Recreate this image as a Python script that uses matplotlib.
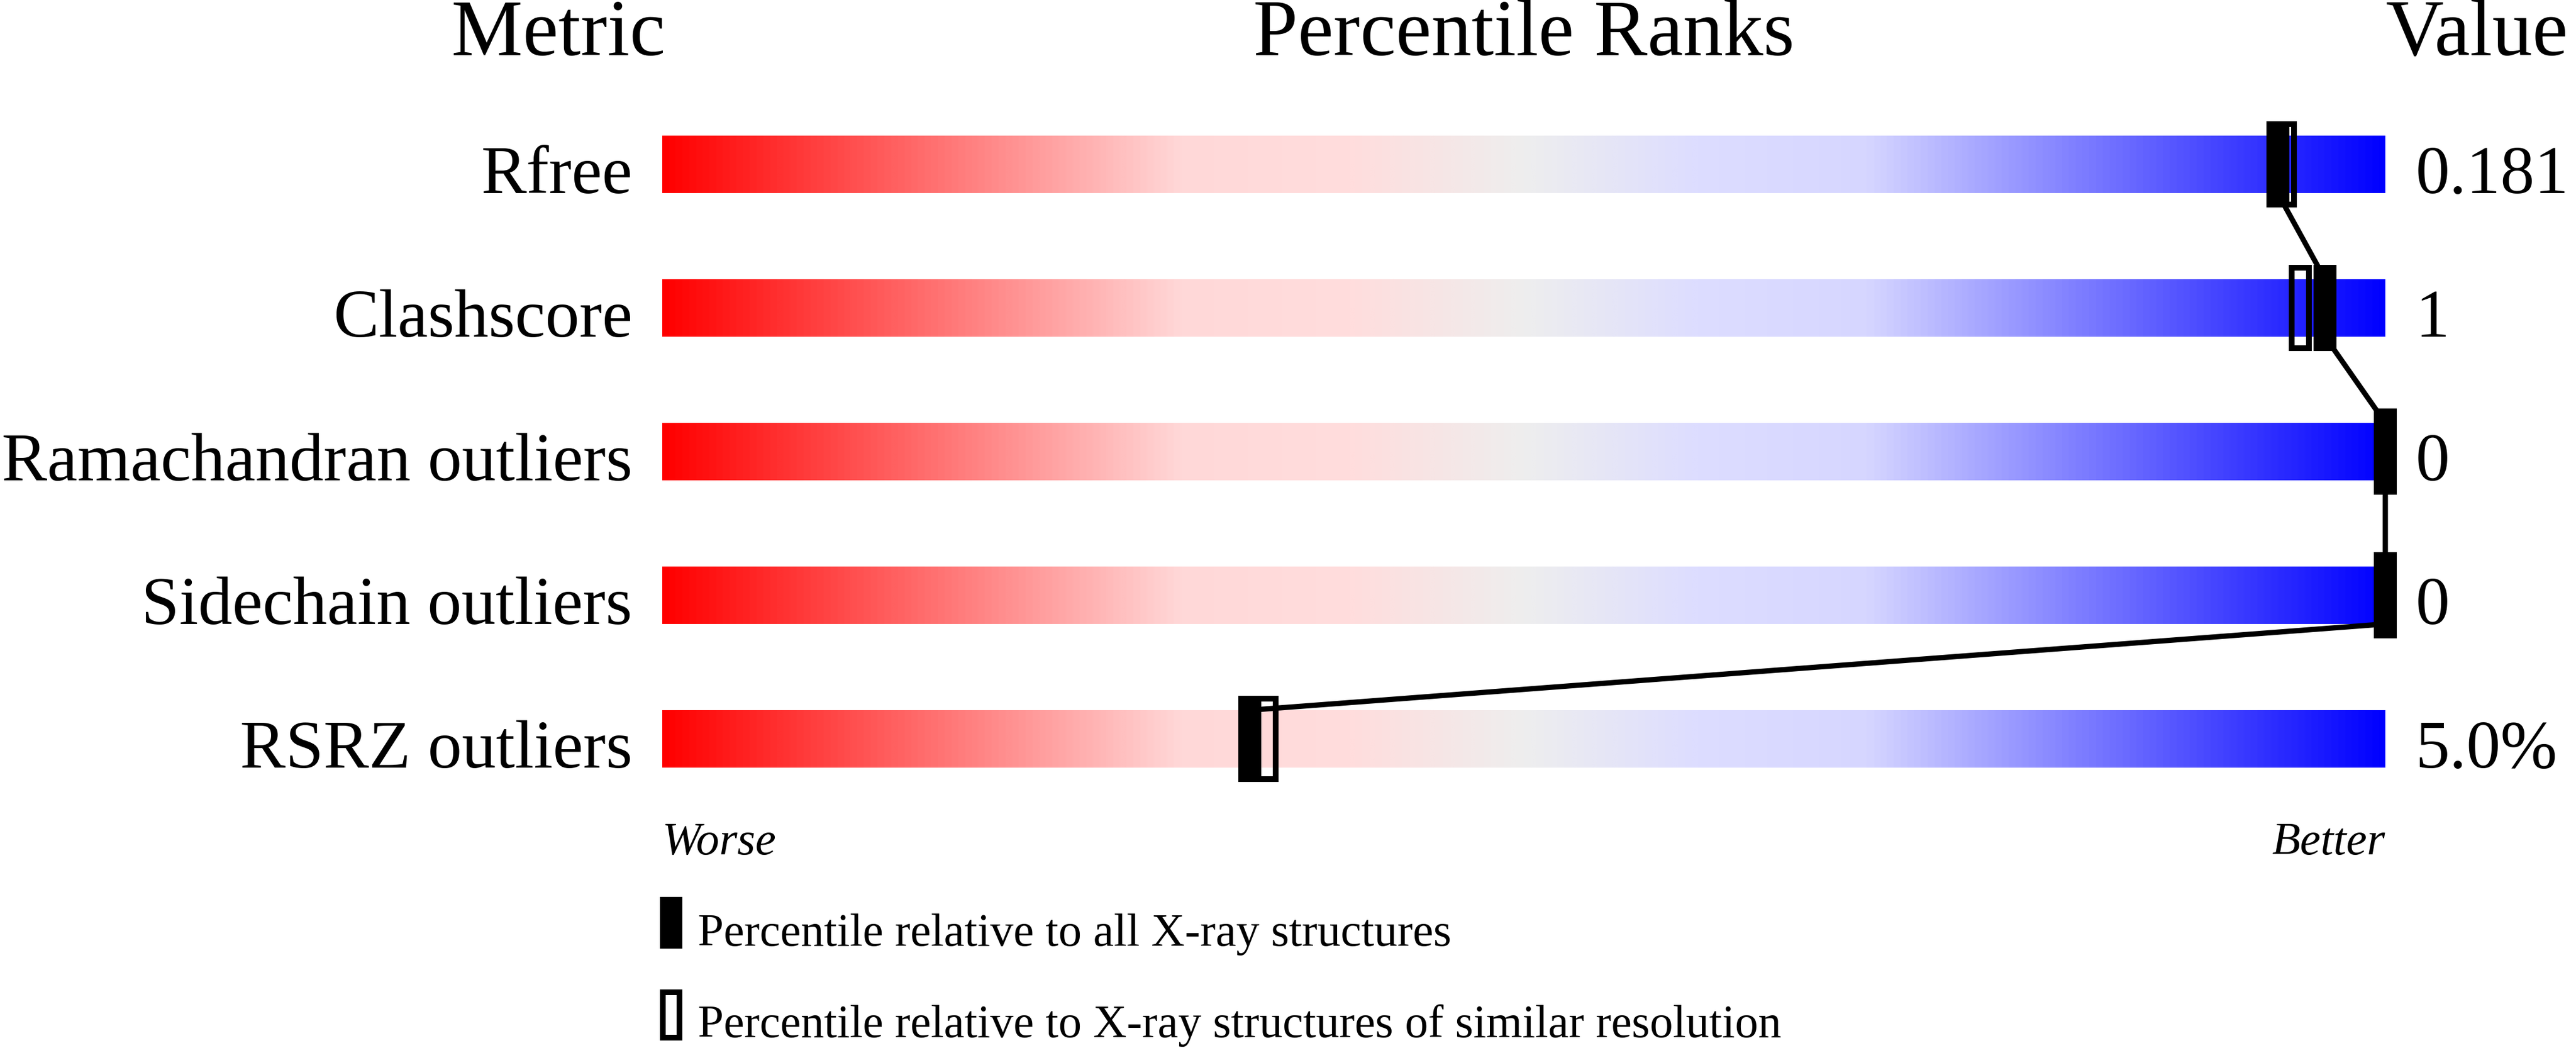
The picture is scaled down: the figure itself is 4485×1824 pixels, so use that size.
import numpy as np
import matplotlib
matplotlib.use("Agg")
import matplotlib.pyplot as plt
import matplotlib.font_manager as fm
from matplotlib.colors import LinearSegmentedColormap
from matplotlib.patches import Rectangle
from matplotlib.transforms import blended_transform_factory

# ---- data ----
metrics = ["Rfree", "Clashscore", "Ramachandran outliers", "Sidechain outliers", "RSRZ outliers"]
values = ["0.181", "1", "0", "0", "5.0%"]
pct_all = [93.75, 96.5, 100, 100, 34.1]
pct_similar = [94.2, 95.05, 100, 100, 35.1]
headers = ["Metric", "Percentile Ranks", "Value"]
scale_labels = ["Worse", "Better"]
legend_labels = ["Percentile relative to all X-ray structures",
                 "Percentile relative to X-ray structures of similar resolution"]

names = {f.name for f in fm.fontManager.ttflist}
serif_pick = next((n for n in ['Liberation Serif', 'Times New Roman', 'Nimbus Roman',
                               'TeX Gyre Termes', 'DejaVu Serif'] if n in names), 'DejaVu Sans')
plt.rcParams['font.family'] = [serif_pick, 'DejaVu Sans']

W, H, DPI = 4485, 1824, 300
fig = plt.figure(figsize=(W / DPI, H / DPI), dpi=DPI)

ax_left, ax_right = 1153, 4153
ax_top, ax_bot = 161, 1411
ax = fig.add_axes([ax_left / W, 1 - ax_bot / H, (ax_right - ax_left) / W, (ax_bot - ax_top) / H])
ax.set_xlim(0, 100)
ax.set_ylim(len(metrics) - 0.5, -0.5)
ax.axis('off')

cmap = LinearSegmentedColormap.from_list("slider", [
    (0.0, "#ff0000"), (0.30, "#ffd8d8"), (0.40, "#ffdddd"), (0.50, "#eeeeee"),
    (0.60, "#ddddff"), (0.70, "#d6d6ff"), (1.0, "#0000ff")])
grad = np.linspace(0, 1, 1024).reshape(1, -1)

bar_h = 0.4
mk_h = 0.6
mk_w = 40 / 3000 * 100
bw = 10
lw_border = bw * 72 / DPI

for i, m in enumerate(metrics):
    ax.imshow(grad, cmap=cmap, aspect='auto', extent=(0, 100, i + bar_h / 2, i - bar_h / 2),
              interpolation='bilinear', zorder=1)
    ax.text(-52 / 30, i + bar_h / 2, m, ha='right', va='baseline', fontsize=28.5, zorder=5)
    ax.text(100 + 53 / 30, i + bar_h / 2, values[i], ha='left', va='baseline', fontsize=28.5, zorder=5)

xs, ys = [], []
for i, p in enumerate(pct_all):
    if i > 0:
        xs.append(p); ys.append(i - bar_h / 2)
    if i < len(pct_all) - 1:
        xs.append(p); ys.append(i + bar_h / 2)
ax.plot(xs, ys, color='black', lw=2.2, zorder=2, solid_joinstyle='miter',
        solid_capstyle='butt', clip_on=False)

inset_x = (bw / 2) / 30
inset_y = (bw / 2) / 250
for i, p in enumerate(pct_similar):
    ax.add_patch(Rectangle((p - mk_w / 2 + inset_x, i - mk_h / 2 + inset_y),
                           mk_w - 2 * inset_x, mk_h - 2 * inset_y,
                           fill=False, edgecolor='black', lw=lw_border, zorder=3,
                           joinstyle='miter', clip_on=False))
for i, p in enumerate(pct_all):
    ax.add_patch(Rectangle((p - mk_w / 2, i - mk_h / 2), mk_w, mk_h,
                           facecolor='black', edgecolor='none', zorder=4, clip_on=False))

tr = blended_transform_factory(ax.transAxes, fig.transFigure)
hy = 1 - 96 / H
ax.text(0.0017, hy, headers[0], transform=tr, ha='right', va='baseline', fontsize=33.5)
ax.text(0.5, hy, headers[1], transform=tr, ha='center', va='baseline', fontsize=33.5)
ax.text(1.0, hy, headers[2], transform=tr, ha='left', va='baseline', fontsize=33.5)

sy = 1 - 1487 / H
ax.text(0.0, sy, scale_labels[0], transform=tr, ha='left', va='baseline', fontsize=19.4, style='italic')
ax.text(1.0, sy, scale_labels[1], transform=tr, ha='right', va='baseline', fontsize=19.4, style='italic')

fig.patches.append(Rectangle((1149 / W, 1 - 1651 / H), 39 / W, 90 / H, transform=fig.transFigure,
                             facecolor='black', edgecolor='none'))
fig.patches.append(Rectangle((1154 / W, 1 - 1806 / H), 29 / W, 79 / H, transform=fig.transFigure,
                             fill=False, edgecolor='black', lw=lw_border, joinstyle='miter'))
fig.text(1215 / W, 1 - 1646 / H, legend_labels[0], ha='left', va='baseline', fontsize=19.4)
fig.text(1215 / W, 1 - 1805 / H, legend_labels[1], ha='left', va='baseline', fontsize=19.4)

fig.savefig("out.png", dpi=DPI, facecolor='white')
